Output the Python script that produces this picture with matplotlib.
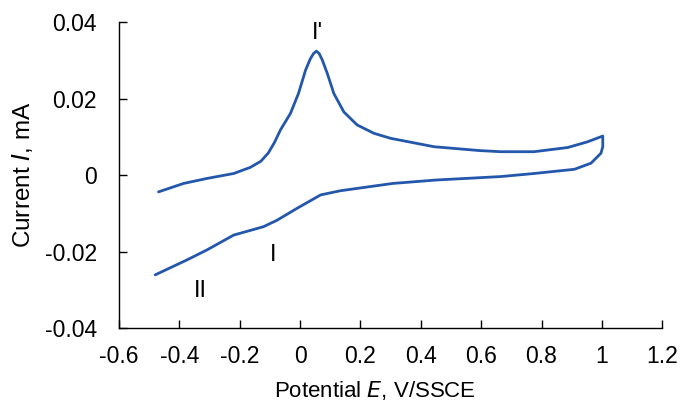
import matplotlib.pyplot as plt
import numpy as np

plt.rcParams['font.family'] = ['Liberation Sans', 'DejaVu Sans']
plt.rcParams['axes.unicode_minus'] = False

# anodic sweep (-0.47 -> 1.0 V)
E_fwd = [-0.469, -0.386, -0.309, -0.220, -0.165, -0.130, -0.105, -0.085, -0.065, -0.032,
         -0.005, 0.018, 0.034, 0.045, 0.054, 0.063, 0.073, 0.090, 0.112, 0.145,
         0.189, 0.245, 0.300, 0.444, 0.594, 0.665, 0.775, 0.887, 0.953, 1.003]
I_fwd = [-0.0044, -0.0022, -0.0009, 0.0004, 0.0020, 0.0036, 0.0058, 0.0085, 0.0118, 0.0161,
         0.0214, 0.0274, 0.0304, 0.0318, 0.0324, 0.0318, 0.0302, 0.0266, 0.0213, 0.0165,
         0.0131, 0.0109, 0.0096, 0.0074, 0.0064, 0.0061, 0.0061, 0.0072, 0.0087, 0.0102]

# cathodic sweep (1.0 -> -0.48 V)
E_rev = [1.003, 0.997, 0.964, 0.909, 0.775, 0.665, 0.451, 0.307, 0.134, 0.068,
         -0.010, -0.076, -0.121, -0.220, -0.309, -0.375, -0.480]
I_rev = [0.0074, 0.0057, 0.0031, 0.0015, 0.0004, -0.0004, -0.0013, -0.0022, -0.0041, -0.0052,
         -0.0087, -0.0118, -0.0135, -0.0157, -0.0196, -0.0222, -0.0261]

labels = ["I'", "I", "II"]
label_E = [0.059, -0.088, -0.332]
label_I = [0.0372, -0.0208, -0.0303]

fig = plt.figure(figsize=(6.82, 4.01), dpi=100)
ax = fig.add_axes([0.1745, 0.182, 0.7965, 0.763])

E = E_fwd + E_rev
I = I_fwd + I_rev
ax.plot(E, I, color='#2357ab', lw=2.0, solid_joinstyle='round', solid_capstyle='round')

for t, x, y in zip(labels, label_E, label_I):
    ax.text(x, y, t, ha='center', va='center', fontsize=17)

ax.set_xlim(-0.6, 1.2)
ax.set_ylim(-0.04, 0.04)
ax.set_xticks(np.arange(-0.6, 1.21, 0.2))
ax.set_yticks([-0.04, -0.02, 0, 0.02, 0.04])
ax.set_xticklabels(['-0.6', '-0.4', '-0.2', '0', '0.2', '0.4', '0.6', '0.8', '1', '1.2'])
ax.set_yticklabels(['-0.04', '-0.02', '0', '0.02', '0.04'])
ax.tick_params(direction='in', length=6, width=1, labelsize=16.5)
ax.tick_params(axis='x', pad=12)
ax.tick_params(axis='y', pad=16)
for s in ['top', 'right']:
    ax.spines[s].set_visible(False)
for s in ['left', 'bottom']:
    ax.spines[s].set_linewidth(1)

ax.set_xlabel('Potential $\\it{E}$, V/SSCE', fontsize=16, labelpad=8)
ax.xaxis.label.set_x(0.472)
ax.set_ylabel('Current $\\it{I}$, mA', fontsize=17.5, labelpad=7)

fig.savefig('out.png', dpi=100)
